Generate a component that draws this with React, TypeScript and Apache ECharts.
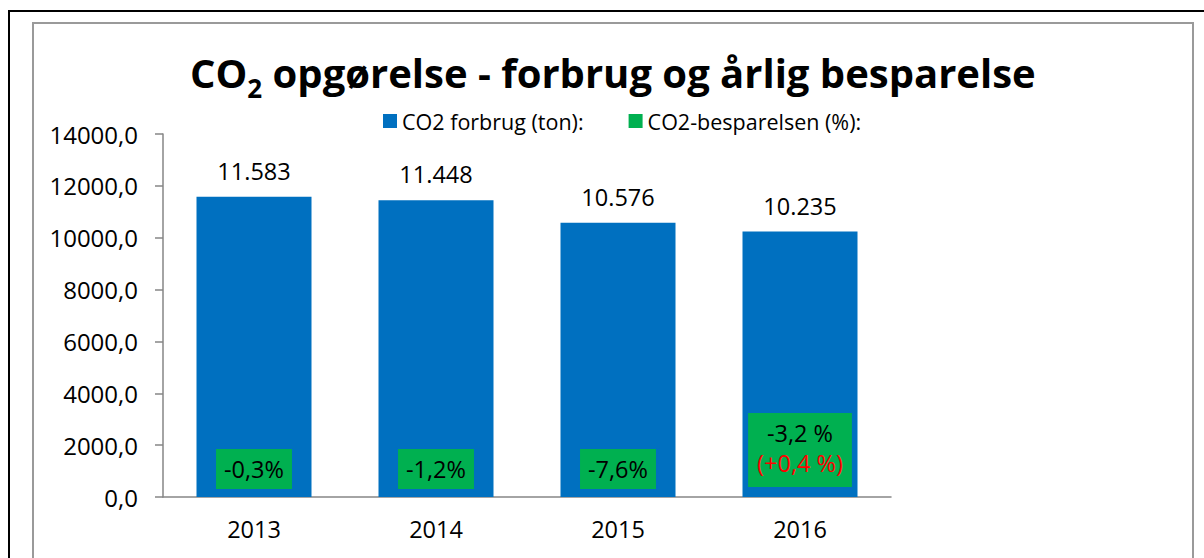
import React, { useEffect, useRef } from "react";
import * as echarts from "echarts";

const years = ["2013", "2014", "2015", "2016"];
const forbrug = [11583, 11448, 10576, 10235];
const besparelse = ["-0,3%", "-1,2%", "-7,6%", "-3,2 %"];
const besparelseNote = ["", "", "", "(+0,4 %)"];
const yTicks = { min: 0, max: 14000, interval: 2000 };

const FONT = "Open Sans";

const fmtThousands = (v: number) =>
  String(Math.round(v)).replace(/\B(?=(\d{3})+(?!\d))/g, ".");

export default function App() {
  const ref = useRef<HTMLDivElement>(null);
  useEffect(() => {
    const chart = echarts.init(ref.current!, null, { renderer: "svg" });
    const greenData = forbrug.map((v, i) => {
      const note = besparelseNote[i];
      return {
        value: v,
        label: note
          ? {
              formatter: `{a|${besparelse[i]}}\n{r|${note}}`,
              padding: [7, 9, 7, 9],
              distance: 10,
            }
          : {
              formatter: `{a|${besparelse[i]}}`,
              padding: [7, 8, 7, 8],
              distance: 8,
            },
      };
    });
    chart.setOption({
      animation: false,
      textStyle: { fontFamily: FONT },
      graphic: [
        {
          type: "rect",
          shape: { x: 9, y: 11, width: 1400, height: 800 },
          style: { fill: "none", stroke: "#000", lineWidth: 2 },
          silent: true,
        },
        {
          type: "rect",
          shape: { x: 33, y: 23, width: 1160, height: 800 },
          style: { fill: "none", stroke: "#9a9a9a", lineWidth: 2 },
          silent: true,
        },
      ],
      title: {
        text: "{a|CO}{s|2}{a| opgørelse - forbrug og årlig besparelse}",
        left: 190,
        top: 42,
        padding: 0,
        textStyle: {
          rich: {
            a: {
              fontFamily: FONT,
              fontWeight: "bold",
              fontSize: 40,
              color: "#000",
              lineHeight: 60,
            },
            s: {
              fontFamily: FONT,
              fontWeight: "bold",
              fontSize: 26,
              color: "#000",
              lineHeight: 60,
              padding: [32, 0, 0, 0],
            },
          },
        },
      },
      legend: {
        top: 110,
        left: 383,
        padding: 0,
        icon: "rect",
        itemWidth: 14,
        itemHeight: 14,
        itemGap: 45,
        textStyle: { fontFamily: FONT, fontSize: 21.5, color: "#000" },
        data: [
          { name: "CO2 forbrug (ton):", itemStyle: { color: "#0070C0" } },
          { name: "CO2-besparelsen (%):", itemStyle: { color: "#00B050" } },
        ],
        selectedMode: false,
      },
      grid: { left: 163, right: 313, top: 134, bottom: 61 },
      xAxis: {
        type: "category",
        data: years,
        axisLine: { lineStyle: { color: "#868686", width: 1.5 } },
        axisTick: { show: false },
        axisLabel: { fontFamily: FONT, fontSize: 23.5, color: "#000", margin: 20 },
      },
      yAxis: {
        type: "value",
        min: yTicks.min,
        max: yTicks.max,
        interval: yTicks.interval,
        axisLine: { show: true, lineStyle: { color: "#868686", width: 1.5 } },
        axisTick: { show: true, length: 8, lineStyle: { color: "#868686", width: 1.5 } },
        splitLine: { show: false },
        axisLabel: {
          fontFamily: FONT,
          fontSize: 24,
          color: "#000",
          margin: 25,
          formatter: (v: number) => v.toFixed(1).replace(".", ","),
        },
      },
      series: [
        {
          name: "CO2 forbrug (ton):",
          type: "bar",
          data: forbrug,
          barWidth: 115,
          barGap: "-100%",
          itemStyle: { color: "#0070C0" },
          label: {
            show: true,
            position: "top",
            distance: 14,
            fontFamily: FONT,
            fontSize: 23.5,
            color: "#000",
            formatter: (p: any) => fmtThousands(p.value),
          },
          silent: true,
        },
        {
          name: "CO2-besparelsen (%):",
          type: "bar",
          data: greenData,
          barWidth: 115,
          barGap: "-100%",
          itemStyle: { color: "rgba(0,0,0,0)" },
          label: {
            show: true,
            position: "insideBottom",
            backgroundColor: "#00B050",
            rich: {
              a: { fontFamily: FONT, fontSize: 23.5, color: "#000", lineHeight: 26 },
              r: { fontFamily: FONT, fontSize: 23.5, color: "#FF0000", lineHeight: 34 },
            },
          },
          silent: true,
        },
      ],
    });
    return () => chart.dispose();
  }, []);
  return (
    <div
      ref={ref}
      style={{ position: "absolute", left: 0, top: 0, width: 1204, height: 558, background: "#fff" }}
    />
  );
}
